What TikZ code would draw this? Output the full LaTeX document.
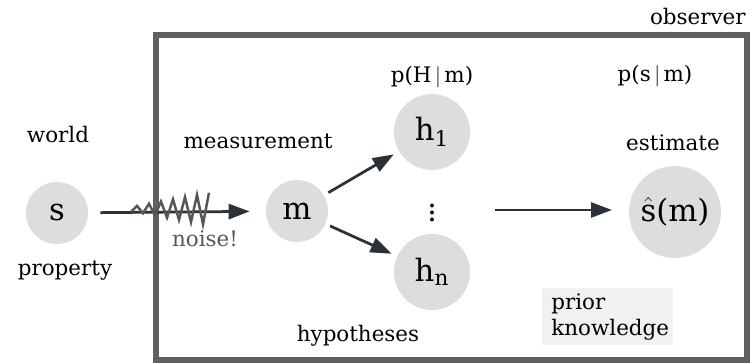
\documentclass[tikz,border=0pt]{standalone}
\usepackage{fontspec}
\setmainfont{DejaVu Serif}
\usetikzlibrary{arrows.meta}
\definecolor{framegray}{HTML}{5F6062}
\definecolor{nodegray}{HTML}{DCDDDF}
\definecolor{arrowdark}{HTML}{2B3237}
\definecolor{priorbg}{HTML}{F0F1F3}
\definecolor{noisegray}{HTML}{55575A}

\begin{document}
\begin{tikzpicture}[x=0.02cm, y=-0.02cm,
    var/.style={circle, fill=nodegray, inner sep=0pt, font=\fontsize{17.5}{20}\selectfont},
    lbl/.style={font=\fontsize{12.2}{14.5}\selectfont, text=black, inner sep=0pt},
    link/.style={-{Triangle[length=0.42cm, width=0.3cm]}, arrowdark, line width=0.055cm}]
  \useasboundingbox (0,0) rectangle (750,362);
  % Observer frame
  \draw[framegray, line width=0.12cm] (156,35) rectangle (747,360);
  \node[lbl, anchor=east] (observer) at (746,17) {observer};
  % World side
  \node[var, minimum size=1.24cm] (s) at (57,213) {s};
  \node[lbl] (world) at (58,135) {world};
  \node[lbl] (property) at (65,271) {property};
  % Measurement
  \node[var, minimum size=1.24cm] (m) at (297,211) {m};
  \node[lbl] (measurement) at (258,141) {measurement};
  % Hypotheses
  \node[var, minimum size=1.52cm] (h1) at (432,132) {h$_{\mathrm{1}}$};
  \node[var, minimum size=1.52cm] (hn) at (432,272) {h$_{\mathrm{n}}$};
  \node[font=\fontsize{17}{19}\selectfont, inner sep=0pt] (dots) at (432,208) {$\vdots$};
  \node[lbl] (pHm) at (432,77) {p(H$\,|\,$m)};
  \node[lbl] (hyp) at (358,336) {hypotheses};
  % Estimate
  \node[var, minimum size=1.84cm] (est) at (675,212) {$\hat{\mathrm{s}}$(m)};
  \node[lbl] (psm) at (655,76) {p(s$\,|\,$m)};
  \node[lbl] (estimate) at (673,143) {estimate};
  % Prior knowledge
  \node[lbl, fill=priorbg, align=left, anchor=north west, inner xsep=0.18cm, inner ysep=0.06cm,
        minimum width=2.62cm, minimum height=1.14cm, text width=2.26cm] (prior) at (542,288)
        {prior\\knowledge};
  % Connectors
  \draw[link, shorten <=0.24cm, shorten >=0.32cm] (s) -- (m);
  \draw[noisegray, line width=0.05cm, line join=miter] (131,212)
    \foreach \i in {1,...,13}{ -- ({131+6*\i},{209+ifthenelse(isodd(\i),-1,1)*(2+1.1*\i)}) };
  \node[lbl, text=noisegray] (noise) at (205,239) {noise!};
  \draw[link, shorten <=0.1cm, shorten >=0.12cm] (m) -- (h1);
  \draw[link, shorten <=0.1cm, shorten >=0.12cm] (m) -- (hn);
  \draw[link] (dots.east) ++(58,2) coordinate (from) (from) -- (612,210) coordinate (to);
\end{tikzpicture}
\end{document}
